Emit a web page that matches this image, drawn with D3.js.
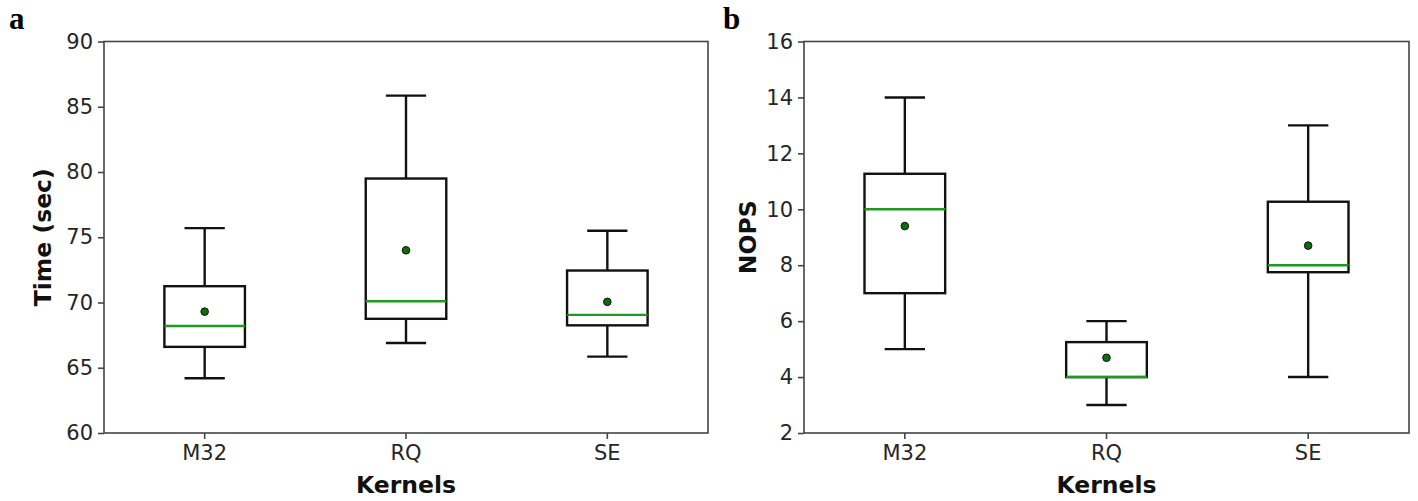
<!DOCTYPE html>
<html>
<head>
<meta charset="utf-8">
<script src="https://cdn.jsdelivr.net/npm/d3@7"></script>
<style>
  body { margin: 0; background: #fff; }
  .tick text { font-family: "DejaVu Sans", sans-serif; font-size: 21px; fill: #262626; }
  .axis-title { font-family: "DejaVu Sans", sans-serif; font-weight: bold; font-size: 23.5px; fill: #111; }
  .panel-label { font-family: "Liberation Serif", "Times New Roman", serif; font-weight: bold; font-size: 31px; }
</style>
</head>
<body>
<div id="chart"></div>
<script>
// kernels on the x axis
var kernels = ['M32', 'RQ', 'SE']

// box stats per kernel: [low whisker, q1, median, q3, high whisker]
var timeBoxes = [
    [64.2, 66.6, 68.2, 71.25, 75.7],
    [66.9, 68.75, 70.1, 79.5, 85.85],
    [65.85, 68.25, 69.05, 72.45, 75.5]
]
var timeMeans = [69.3, 74.0, 70.05]
var timeTicks = [60, 65, 70, 75, 80, 85, 90]

var nopsBoxes = [
    [5, 7, 10, 11.27, 14],
    [3, 4, 4, 5.25, 6],
    [4, 7.75, 8, 10.27, 13]
]
var nopsMeans = [9.4, 4.69, 8.7]
var nopsTicks = [2, 4, 6, 8, 10, 12, 14, 16]

var svg = d3.select('#chart')
    .append('svg')
    .attr('width', 1418)
    .attr('height', 501)

function drawPanel(opts) {
    var g = svg.append('g')

    var x = d3.scaleBand()
        .domain(kernels)
        .range([opts.left, opts.right])
        .paddingInner(0)
        .paddingOuter(0)

    var y = d3.scaleLinear()
        .domain([opts.ticks[0], opts.ticks[opts.ticks.length - 1]])
        .range([opts.bottom, opts.top])

    var boxW = x.bandwidth() * 0.4
    var capW = boxW / 2
    var cx = k => x(k) + x.bandwidth() / 2

    // frame
    g.append('rect')
        .attr('x', opts.left)
        .attr('y', opts.top)
        .attr('width', opts.right - opts.left)
        .attr('height', opts.bottom - opts.top)
        .attr('fill', 'none')
        .attr('stroke', '#444')
        .attr('stroke-width', 1.6)

    var yAxis = g.append('g')
        .attr('transform', `translate(${opts.left},0)`)
        .call(d3.axisLeft(y).tickValues(opts.ticks).tickSize(6).tickPadding(5))
    yAxis.select('.domain').remove()
    yAxis.selectAll('.tick line').attr('stroke', '#444').attr('stroke-width', 1.6)

    var xAxis = g.append('g')
        .attr('transform', `translate(0,${opts.bottom})`)
        .call(d3.axisBottom(x).tickSize(6).tickPadding(6))
    xAxis.select('.domain').remove()
    xAxis.selectAll('.tick line').attr('stroke', '#444').attr('stroke-width', 1.6)

    var boxes = g.selectAll('.box')
        .data(kernels.map((k, i) => ({ k: k, s: opts.boxes[i], mean: opts.means[i] })))
        .enter()
        .append('g')
        .attr('class', 'box')

    // whiskers
    boxes.append('line')
        .attr('x1', d => cx(d.k)).attr('x2', d => cx(d.k))
        .attr('y1', d => y(d.s[0])).attr('y2', d => y(d.s[1]))
        .attr('stroke', '#111').attr('stroke-width', 2.4)
    boxes.append('line')
        .attr('x1', d => cx(d.k)).attr('x2', d => cx(d.k))
        .attr('y1', d => y(d.s[3])).attr('y2', d => y(d.s[4]))
        .attr('stroke', '#111').attr('stroke-width', 2.4)

    // caps
    boxes.selectAll('.cap')
        .data(d => [d, d].map((e, j) => ({ k: e.k, v: j ? e.s[4] : e.s[0] })))
        .enter()
        .append('line')
        .attr('x1', d => cx(d.k) - capW / 2).attr('x2', d => cx(d.k) + capW / 2)
        .attr('y1', d => y(d.v)).attr('y2', d => y(d.v))
        .attr('stroke', '#111').attr('stroke-width', 2.4)

    boxes.append('rect')
        .attr('x', d => cx(d.k) - boxW / 2)
        .attr('width', boxW)
        .attr('y', d => y(d.s[3]))
        .attr('height', d => y(d.s[1]) - y(d.s[3]))
        .attr('fill', 'none')
        .attr('stroke', '#111')
        .attr('stroke-width', 2.4)

    // median
    boxes.append('line')
        .attr('x1', d => cx(d.k) - boxW / 2).attr('x2', d => cx(d.k) + boxW / 2)
        .attr('y1', d => y(d.s[2])).attr('y2', d => y(d.s[2]))
        .attr('stroke', '#1f9a1f').attr('stroke-width', 2.4)

    // mean marker
    boxes.append('circle')
        .attr('cx', d => cx(d.k))
        .attr('cy', d => y(d.mean))
        .attr('r', 3.8)
        .attr('fill', '#0b6e0b')
        .attr('stroke', '#111')
        .attr('stroke-width', 1)

    g.append('text')
        .attr('class', 'axis-title')
        .attr('x', (opts.left + opts.right) / 2)
        .attr('y', 493)
        .attr('text-anchor', 'middle')
        .text('Kernels')

    g.append('text')
        .attr('class', 'axis-title')
        .attr('transform', `translate(${opts.ylabelX},${(opts.top + opts.bottom) / 2}) rotate(-90)`)
        .attr('text-anchor', 'middle')
        .attr('dy', '0.35em')
        .text(opts.ylabel)

    g.append('text')
        .attr('class', 'panel-label')
        .attr('x', opts.labelX)
        .attr('y', 29)
        .text(opts.label)
}

drawPanel({
    left: 104, right: 708, top: 41.5, bottom: 433,
    boxes: timeBoxes, means: timeMeans, ticks: timeTicks,
    ylabel: 'Time (sec)', ylabelX: 43, label: 'a', labelX: 9
})

drawPanel({
    left: 804, right: 1409, top: 41.5, bottom: 433,
    boxes: nopsBoxes, means: nopsMeans, ticks: nopsTicks,
    ylabel: 'NOPS', ylabelX: 748, label: 'b', labelX: 723
})
</script>
</body>
</html>
